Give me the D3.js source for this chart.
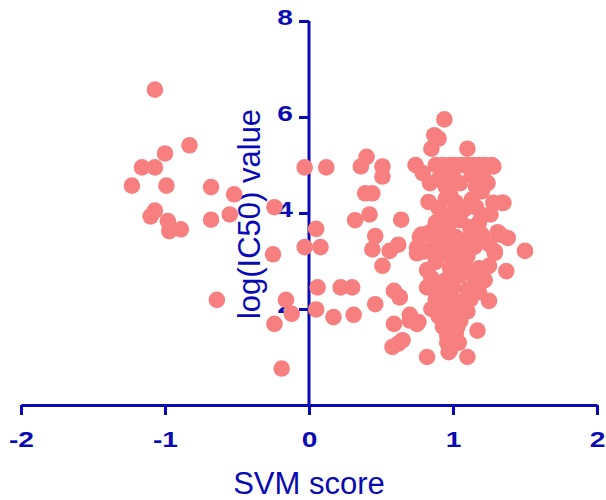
<!DOCTYPE html>
<html>
<head>
<meta charset="utf-8">
<script src="https://cdn.jsdelivr.net/npm/d3@7"></script>
<style>
  body { margin: 0; background: #fff; }
  svg { display: block; }
  .axis text { font-family: "Liberation Sans", Arial, sans-serif; font-weight: bold; font-size: 22px; fill: #0a0ab4; }
  .axis path, .axis line { stroke: #0a0ab4; stroke-width: 3; }
  .title { font-family: "Liberation Sans", Arial, sans-serif; font-size: 31px; fill: #0a0ab4; }
</style>
</head>
<body>
<div id="chart"></div>
<script>
// [SVM score, log(IC50)] pairs
const negativeScores = [
  [-1.07, 6.57], [-0.83, 5.41], [-1.0, 5.24], [-1.16, 4.95], [-1.07, 4.95],
  [-1.23, 4.57], [-0.99, 4.57], [-0.68, 4.54], [-0.52, 4.39], [-1.07, 4.05],
  [-1.10, 3.93], [-0.98, 3.83], [-0.97, 3.62], [-0.89, 3.66], [-0.68, 3.86],
  [-0.55, 3.97], [-0.24, 4.12], [-0.25, 3.14], [-0.64, 2.19], [-0.16, 2.19],
  [-0.12, 1.90], [-0.24, 1.69], [-0.19, 0.76]
];

const nearZero = [
  [-0.03, 4.95], [0.12, 4.95], [0.05, 3.67], [-0.03, 3.29], [0.08, 3.29],
  [0.06, 2.45], [0.05, 1.99], [0.17, 1.83], [0.22, 2.45], [0.30, 2.45],
  [0.31, 1.88], [0.32, 3.85], [0.42, 3.97], [0.36, 4.97], [0.40, 5.17],
  [0.51, 4.97], [0.51, 4.76], [0.39, 4.41], [0.44, 4.41], [0.46, 3.52],
  [0.44, 3.24], [0.51, 2.90], [0.56, 3.21], [0.62, 3.34], [0.64, 3.86],
  [0.46, 2.10], [0.59, 2.38], [0.63, 2.24], [0.59, 1.69], [0.70, 1.76],
  [0.75, 1.69], [0.62, 1.28], [0.58, 1.21], [0.65, 1.35], [0.70, 1.88],
  [0.76, 1.73], [0.63, 2.25]
];

const positiveSpread = [
  [0.82, 1.0], [0.74, 5.0], [0.75, 3.28], [0.78, 3.55], [0.94, 5.95],
  [0.87, 5.62], [0.90, 5.55], [0.85, 5.34], [1.10, 5.34], [1.28, 4.97],
  [1.24, 4.62], [1.34, 4.21], [1.26, 3.97], [1.33, 3.55], [1.38, 3.48],
  [1.29, 3.17], [1.50, 3.21], [1.37, 2.79], [1.25, 2.17], [1.17, 1.55],
  [1.10, 1.0], [0.97, 1.10]
];

const denseCluster = [
  [0.88, 5.0], [0.93, 5.0], [0.98, 5.0], [1.02, 5.0], [1.06, 5.0],
  [1.10, 5.0], [1.14, 5.0], [1.18, 5.0], [1.22, 5.0], [1.27, 5.0],
  [0.79, 4.83], [0.84, 4.62], [0.90, 4.70], [0.95, 4.55], [1.00, 4.75],
  [0.93, 4.85], [1.05, 4.62], [1.13, 4.80], [1.16, 4.55], [1.22, 4.69],
  [1.20, 4.45], [0.98, 4.38], [1.13, 4.28], [1.02, 4.22], [0.83, 4.23],
  [0.90, 4.10], [0.95, 4.30], [1.08, 4.08], [1.16, 4.12], [1.28, 4.21],
  [1.35, 4.21], [1.20, 3.95], [1.00, 4.00], [0.92, 3.90],
  [0.88, 3.80], [0.97, 3.75], [1.05, 3.85], [1.12, 3.70], [1.18, 3.80],
  [0.84, 3.60], [0.77, 3.50], [0.93, 3.55], [1.02, 3.50], [1.10, 3.45],
  [1.20, 3.55], [1.31, 3.60], [0.87, 3.35], [0.95, 3.30], [1.05, 3.25],
  [1.15, 3.30], [1.25, 3.35], [0.80, 3.20], [0.75, 3.16], [0.90, 3.10],
  [1.00, 3.05], [1.10, 3.10], [1.29, 3.20],
  [0.82, 2.81], [0.88, 2.98], [0.98, 2.85], [1.08, 2.90], [1.18, 2.85],
  [1.25, 2.90], [0.85, 2.65], [0.95, 2.60], [1.05, 2.70], [1.15, 2.65],
  [1.22, 2.60], [0.82, 2.45], [0.90, 2.40], [1.00, 2.45], [1.10, 2.40],
  [1.18, 2.35], [0.88, 2.20], [0.97, 2.25], [1.05, 2.15], [1.12, 2.20],
  [0.85, 2.00], [0.93, 2.05], [1.02, 2.00], [1.10, 1.95],
  [0.90, 1.85], [0.98, 1.80], [1.05, 1.75], [0.93, 1.63], [1.03, 1.63],
  [0.96, 1.45], [1.02, 1.50], [0.96, 1.30], [1.04, 1.30], [0.98, 1.15]
];

const xTicks = [-2, -1, 0, 1, 2];
const yTicks = [2, 4, 6, 8];

const width = 606, height = 500;
const blue = '#0a0ab4';
const dotColor = '#f77f7f';
const labelStretch = 1.28;   // tick digits in the original are drawn wide

const svg = d3.select('#chart')
    .append('svg')
    .attr('width', width)
    .attr('height', height);

const x = d3.scaleLinear().domain([-2, 2]).range([21, 597]);
const y = d3.scaleLinear().domain([0, 8]).range([405, 21]);

svg.append('g')
    .attr('class', 'axis')
    .attr('transform', `translate(0,${y(0)})`)
    .call(d3.axisBottom(x).tickValues(xTicks).tickSize(10).tickSizeOuter(0).tickPadding(16).tickFormat(d => String(d)))
    .call(g => g.selectAll('.tick text').attr('transform', `scale(${labelStretch},1)`));

svg.append('g')
    .attr('class', 'axis')
    .attr('transform', `translate(${x(0)},0)`)
    .call(d3.axisLeft(y).tickValues(yTicks).tickSize(10).tickSizeOuter(0).tickPadding(6))
    .call(g => g.select('.domain').attr('d', `M0,${y(0)}V${y(8)}`))
    .call(g => g.selectAll('.tick text')
        .attr('x', -16 / labelStretch)
        .attr('dy', '0.16em')
        .attr('transform', `scale(${labelStretch},1)`));

svg.append('text')
    .attr('class', 'title')
    .attr('transform', `translate(260,${y(4) + 1}) rotate(-90)`)
    .attr('text-anchor', 'middle')
    .text('log(IC50) value');

const allPoints = [...negativeScores, ...nearZero, ...positiveSpread, ...denseCluster];

svg.append('g')
    .selectAll('circle')
    .data(allPoints)
    .enter()
    .append('circle')
    .attr('cx', d => x(d[0]))
    .attr('cy', d => y(d[1]))
    .attr('r', 8.3)
    .attr('fill', dotColor);

svg.append('text')
    .attr('class', 'title')
    .attr('x', x(0))
    .attr('y', 494)
    .attr('text-anchor', 'middle')
    .text('SVM score');
</script>
</body>
</html>
